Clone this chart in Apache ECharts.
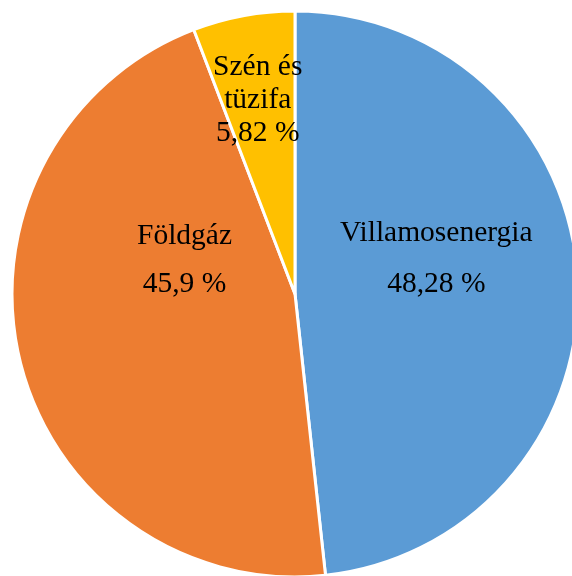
<!DOCTYPE html>
<html><head><meta charset="utf-8">
<script src="https://cdn.jsdelivr.net/npm/echarts@6/dist/echarts.min.js"></script>
<style>html,body{margin:0;padding:0;background:#fff}#c{width:572px;height:576px}</style>
</head><body><div id="c"></div>
<script>
const categories = ['Villamosenergia', 'Földgáz', 'Szén és\ntüzifa'];
const values = [48.28, 45.9, 5.82];
const colors = ['#5B9BD5', '#ED7D31', '#FFC000'];
const labelOffsets = [[-3, -27], [30, -68], [-11, -52]];
const lineHeights = [51, 48, 33];

const chart = echarts.init(document.getElementById('c'), null, {renderer: 'canvas'});
chart.setOption({
  animation: false,
  series: [{
    type: 'pie',
    center: [295, 294],
    radius: 283,
    startAngle: 90,
    clockwise: true,
    avoidLabelOverlap: false,
    itemStyle: {borderColor: '#fff', borderWidth: 3},
    emphasis: {disabled: true},
    data: categories.map((n, i) => ({
      name: n, value: values[i],
      itemStyle: {color: colors[i]},
      label: {offset: labelOffsets[i], lineHeight: lineHeights[i]}
    })),
    label: {
      position: 'inside',
      color: '#000',
      fontFamily: 'Liberation Serif',
      fontSize: 29.5,
      align: 'center',
      formatter: p => p.name + '\n' + String(p.value).replace('.', ',') + ' %'
    },
    labelLine: {show: false}
  }]
});
</script></body></html>
